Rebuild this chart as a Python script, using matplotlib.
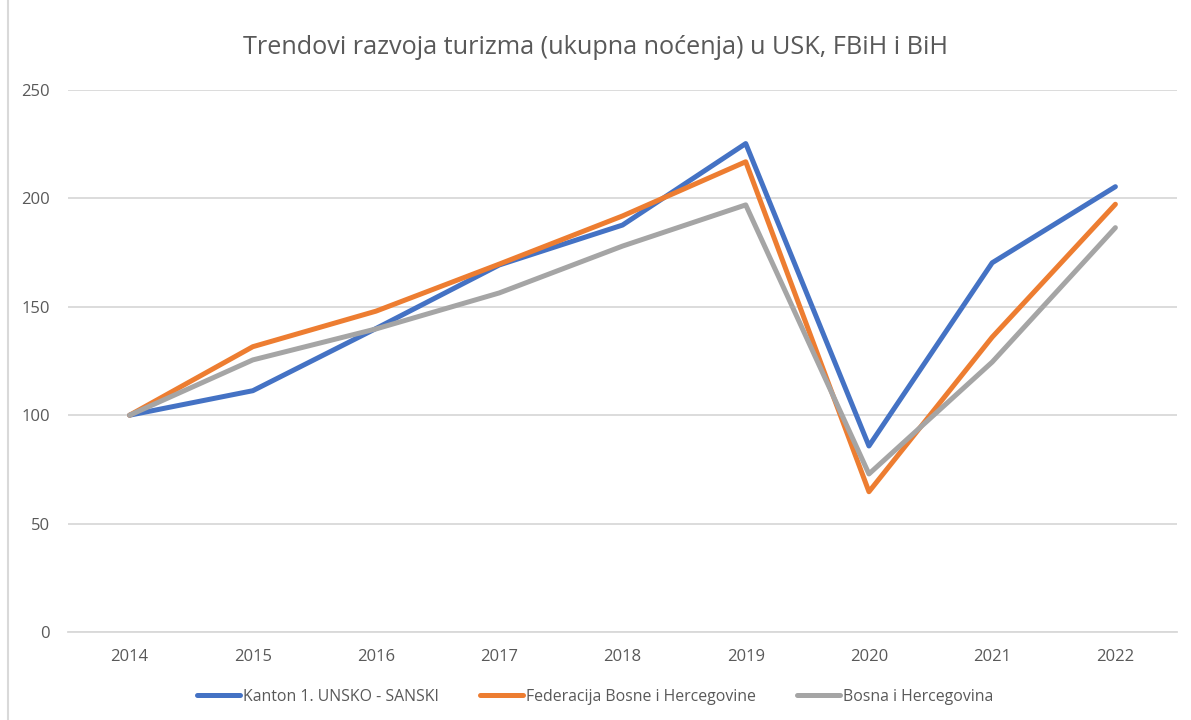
import matplotlib
matplotlib.use('Agg')
import matplotlib.pyplot as plt
from matplotlib.lines import Line2D

plt.rcParams['font.family'] = ['Open Sans', 'DejaVu Sans']

years = [2014, 2015, 2016, 2017, 2018, 2019, 2020, 2021, 2022]
usk = [100, 111.3, 140, 169.3, 187.7, 225.3, 85.8, 170.3, 205.4]
fbih = [100, 131.6, 148, 169.7, 191.9, 216.9, 64.7, 136, 197.3]
bih = [100, 125.5, 139.8, 156.4, 178, 197, 72.9, 124.5, 186.5]
labels = ['Kanton 1. UNSKO - SANSKI', 'Federacija Bosne i Hercegovine', 'Bosna i Hercegovina']
colors = ['#4472C4', '#ED7D31', '#A5A5A5']
txt = '#595959'

fig = plt.figure(figsize=(11.91, 7.2), dpi=100)
ax = fig.add_axes([68/1191, 1 - 632/720, 1109/1191, 542/720])

for vals, lab, c in zip([usk, fbih, bih], labels, colors):
    ax.plot(years, vals, color=c, lw=3.6, label=lab, solid_capstyle='round', solid_joinstyle='round', zorder=3)

ax.set_xlim(2013.5, 2022.5)
ax.set_ylim(0, 250)
ax.set_xticks(years)
ax.set_xticklabels([str(y) for y in years])
ax.set_yticks(range(0, 251, 50))
ax.grid(axis='y', color='#D9D9D9', lw=1.3)
ax.set_axisbelow(True)
for s in ax.spines.values():
    s.set_visible(False)
ax.spines['bottom'].set_visible(True)
ax.spines['bottom'].set_color('#D9D9D9')
ax.spines['bottom'].set_linewidth(1.3)
ax.tick_params(length=0, labelsize=12, colors=txt)
ax.tick_params(axis='x', pad=12)
ax.tick_params(axis='y', pad=13)

fig.text(0.5, 1 - 47/720, 'Trendovi razvoja turizma (ukupna noćenja) u USK, FBiH i BiH',
         ha='center', va='center', fontsize=18.2, color=txt)

handles = [Line2D([0], [0], color=c, lw=3.6, solid_capstyle='round') for c in colors]
fig.legend(handles, labels, loc='center', bbox_to_anchor=(0.5, 1 - 697/720), ncol=3,
           frameon=False, fontsize=11.4, labelcolor=txt, handlelength=2.7,
           handletextpad=0.2, columnspacing=2.6)

fig.add_artist(Line2D([8/1191, 8/1191], [0, 1], color='#D9D9D9', lw=1.5, transform=fig.transFigure))

fig.savefig('out.png', dpi=100)
